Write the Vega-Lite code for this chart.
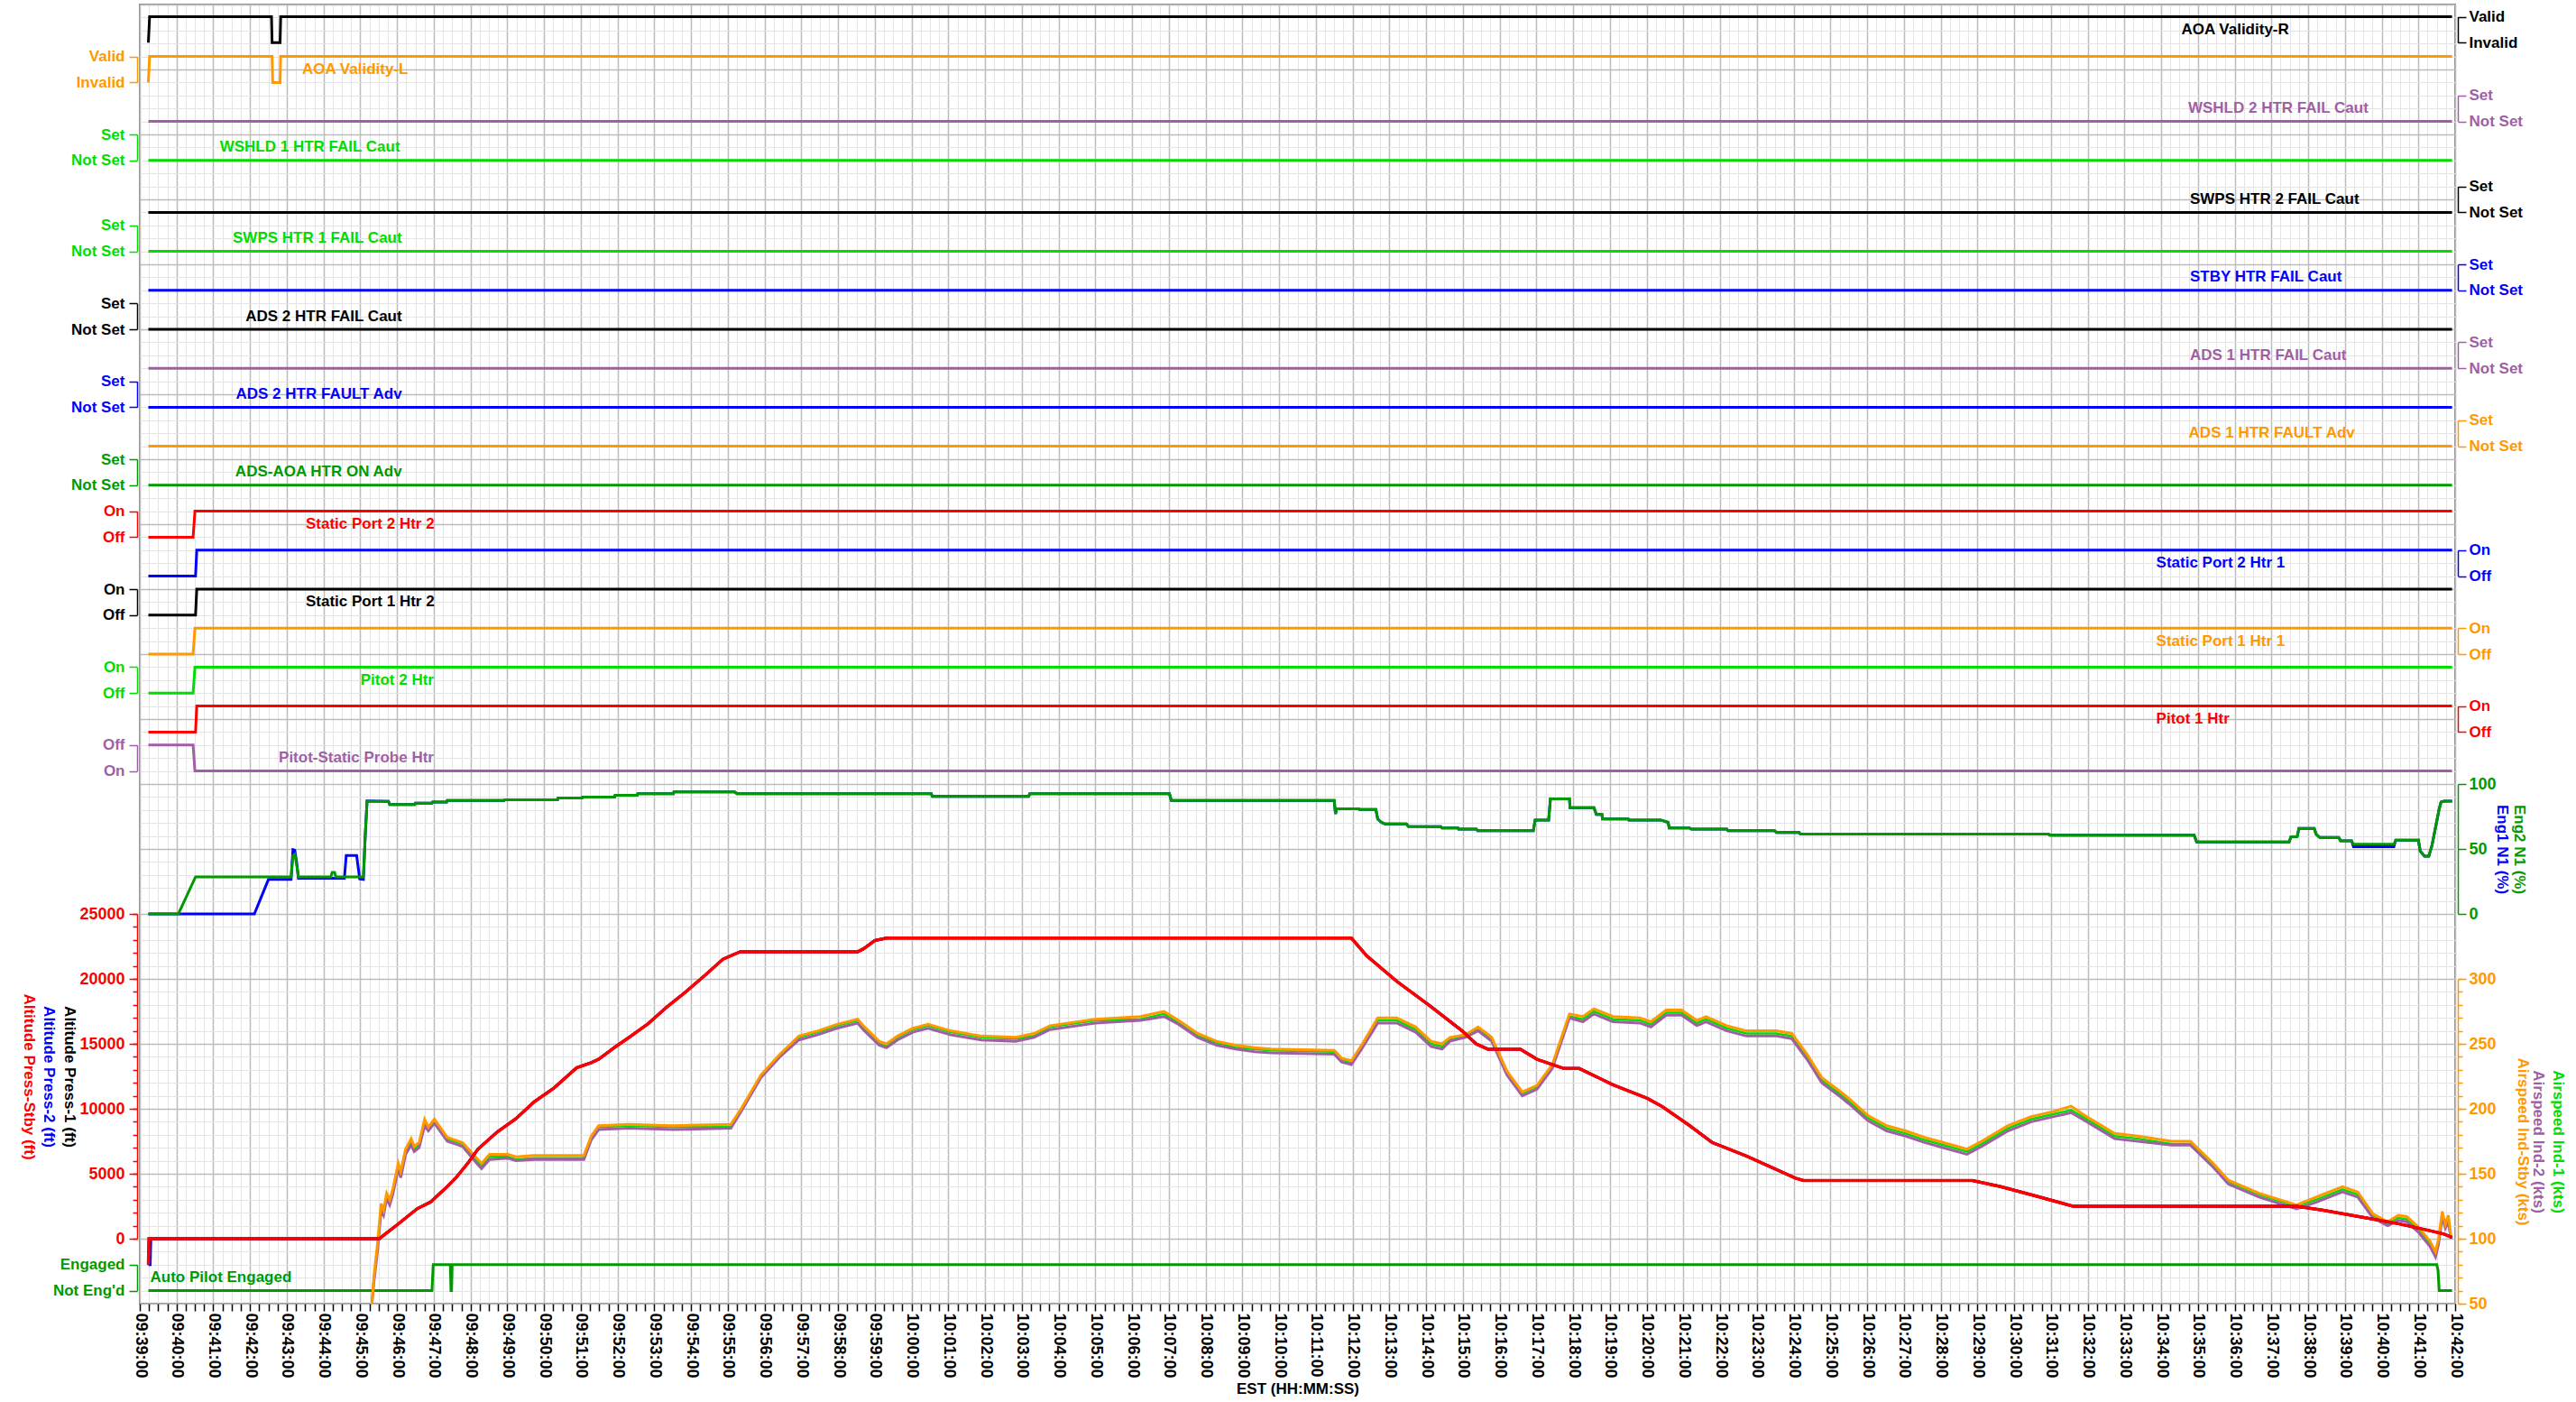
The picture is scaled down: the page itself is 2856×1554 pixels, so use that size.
{
 "$schema": "https://vega.github.io/schema/vega-lite/v6.json",
 "width": 2567,
 "height": 1440,
 "autosize": {"type": "none"},
 "padding": {"left": 155, "top": 5, "right": 134, "bottom": 109},
 "background": "#ffffff",
 "config": {
  "view": {"stroke": "#8c8c8c", "strokeWidth": 2},
  "font": "Liberation Sans",
  "axis": {"labelFont": "Liberation Sans", "titleFont": "Liberation Sans", "labelFontWeight": "bold", "titleFontWeight": "bold", "labelFontSize": 17, "titleFontSize": 17, "grid": false, "labelOverlap": false},
  "text": {"font": "Liberation Sans", "fontSize": 17, "fontWeight": "bold", "baseline": "middle"}
 },
 "datasets": {
  "aoar": [{"t":"2000-01-01T09:39:14Z","v":0},{"t":"2000-01-01T09:39:16Z","v":1},{"t":"2000-01-01T09:42:35Z","v":1},{"t":"2000-01-01T09:42:36Z","v":0},{"t":"2000-01-01T09:42:49Z","v":0},{"t":"2000-01-01T09:42:50Z","v":1},{"t":"2000-01-01T10:41:55Z","v":1}],
  "aoal": [{"t":"2000-01-01T09:39:14Z","v":0},{"t":"2000-01-01T09:39:16Z","v":1},{"t":"2000-01-01T09:42:36Z","v":1},{"t":"2000-01-01T09:42:37Z","v":0},{"t":"2000-01-01T09:42:49Z","v":0},{"t":"2000-01-01T09:42:50Z","v":1},{"t":"2000-01-01T10:41:55Z","v":1}],
  "off": [{"t":"2000-01-01T09:39:14Z","v":0},{"t":"2000-01-01T10:41:55Z","v":0}],
  "htrA": [{"t":"2000-01-01T09:39:14Z","v":0},{"t":"2000-01-01T09:40:27Z","v":0},{"t":"2000-01-01T09:40:30Z","v":1},{"t":"2000-01-01T10:41:55Z","v":1}],
  "htrB": [{"t":"2000-01-01T09:39:14Z","v":0},{"t":"2000-01-01T09:40:31Z","v":0},{"t":"2000-01-01T09:40:33Z","v":1},{"t":"2000-01-01T10:41:55Z","v":1}],
  "ap": [{"t":"2000-01-01T09:39:14Z","v":0},{"t":"2000-01-01T09:46:57Z","v":0},{"t":"2000-01-01T09:46:59Z","v":1},{"t":"2000-01-01T09:47:27Z","v":1},{"t":"2000-01-01T09:47:28Z","v":0},{"t":"2000-01-01T09:47:29Z","v":0},{"t":"2000-01-01T09:47:30Z","v":1},{"t":"2000-01-01T10:41:30Z","v":1},{"t":"2000-01-01T10:41:32Z","v":0.8},{"t":"2000-01-01T10:41:34Z","v":0},{"t":"2000-01-01T10:41:55Z","v":0}],
  "n1": [
   {"t":"2000-01-01T09:39:14Z","e1":0,"e2":0},{"t":"2000-01-01T09:40:03Z","e1":0,"e2":0},{"t":"2000-01-01T09:40:31Z","e1":0,"e2":28.5},{"t":"2000-01-01T09:42:07Z","e1":0,"e2":28.5},{"t":"2000-01-01T09:42:30Z","e1":26.5,"e2":28.5},{"t":"2000-01-01T09:43:07Z","e1":26.5,"e2":28.5},{"t":"2000-01-01T09:43:10Z","e1":49.5,"e2":45},{"t":"2000-01-01T09:43:13Z","e1":49,"e2":46},{"t":"2000-01-01T09:43:16Z","e1":40,"e2":38},{"t":"2000-01-01T09:43:19Z","e1":27.5,"e2":28.5},{"t":"2000-01-01T09:44:12Z","e1":27.5,"e2":28.5},{"t":"2000-01-01T09:44:14Z","e1":27.5,"e2":32},{"t":"2000-01-01T09:44:18Z","e1":27.5,"e2":32},{"t":"2000-01-01T09:44:20Z","e1":27.5,"e2":28.5},{"t":"2000-01-01T09:44:34Z","e1":27.5,"e2":28.5},{"t":"2000-01-01T09:44:37Z","e1":45,"e2":28.5},{"t":"2000-01-01T09:44:54Z","e1":45,"e2":28.5},{"t":"2000-01-01T09:44:59Z","e1":27,"e2":28.5},{"t":"2000-01-01T09:45:05Z","e1":26.5,"e2":28.5},{"t":"2000-01-01T09:45:08Z","e1":60,"e2":60},{"t":"2000-01-01T09:45:11Z","e1":87,"e2":86.6},
   {"t":"2000-01-01T09:45:46Z","e1":86.6,"e2":86.6},{"t":"2000-01-01T09:45:48Z","e1":84.2,"e2":84.2},{"t":"2000-01-01T09:46:29Z","e1":84.2,"e2":84.2},{"t":"2000-01-01T09:46:30Z","e1":85.3,"e2":85.3},{"t":"2000-01-01T09:46:57Z","e1":85.3,"e2":85.3},{"t":"2000-01-01T09:46:58Z","e1":86.1,"e2":86.1},{"t":"2000-01-01T09:47:21Z","e1":86.1,"e2":86.1},{"t":"2000-01-01T09:47:22Z","e1":87.4,"e2":87.4},{"t":"2000-01-01T09:48:55Z","e1":87.4,"e2":87.4},{"t":"2000-01-01T09:48:56Z","e1":87.9,"e2":87.9},{"t":"2000-01-01T09:50:22Z","e1":87.9,"e2":87.9},{"t":"2000-01-01T09:50:23Z","e1":89.2,"e2":89.2},{"t":"2000-01-01T09:51:02Z","e1":89.2,"e2":89.2},{"t":"2000-01-01T09:51:03Z","e1":90,"e2":90},{"t":"2000-01-01T09:51:55Z","e1":90,"e2":90},{"t":"2000-01-01T09:51:56Z","e1":91.3,"e2":91.3},{"t":"2000-01-01T09:52:32Z","e1":91.3,"e2":91.3},{"t":"2000-01-01T09:52:33Z","e1":92.5,"e2":92.5},{"t":"2000-01-01T09:53:31Z","e1":92.5,"e2":92.5},{"t":"2000-01-01T09:53:32Z","e1":93.9,"e2":93.9},{"t":"2000-01-01T09:55:11Z","e1":93.9,"e2":93.9},{"t":"2000-01-01T09:55:15Z","e1":92.5,"e2":92.5},
   {"t":"2000-01-01T10:00:32Z","e1":92.5,"e2":92.5},{"t":"2000-01-01T10:00:34Z","e1":90.5,"e2":90.5},{"t":"2000-01-01T10:03:11Z","e1":90.5,"e2":90.5},{"t":"2000-01-01T10:03:13Z","e1":92.5,"e2":92.5},{"t":"2000-01-01T10:07:01Z","e1":92.5,"e2":92.5},{"t":"2000-01-01T10:07:04Z","e1":87.4,"e2":87.4},{"t":"2000-01-01T10:11:30Z","e1":87.4,"e2":87.4},{"t":"2000-01-01T10:11:32Z","e1":77,"e2":77},{"t":"2000-01-01T10:11:34Z","e1":80.9,"e2":80.9},{"t":"2000-01-01T10:12:10Z","e1":80.9,"e2":80.9},{"t":"2000-01-01T10:12:11Z","e1":80.3,"e2":80.3},{"t":"2000-01-01T10:12:38Z","e1":80.3,"e2":80.3},{"t":"2000-01-01T10:12:41Z","e1":73.1,"e2":73.1},{"t":"2000-01-01T10:12:47Z","e1":70.5,"e2":70.5},{"t":"2000-01-01T10:12:53Z","e1":69.2,"e2":69.2},{"t":"2000-01-01T10:13:28Z","e1":69.2,"e2":69.2},{"t":"2000-01-01T10:13:31Z","e1":67.4,"e2":67.4},{"t":"2000-01-01T10:14:24Z","e1":67.2,"e2":67.2},{"t":"2000-01-01T10:14:26Z","e1":66.1,"e2":66.1},{"t":"2000-01-01T10:14:52Z","e1":66.1,"e2":66.1},{"t":"2000-01-01T10:14:53Z","e1":65.3,"e2":65.3},{"t":"2000-01-01T10:15:22Z","e1":65.3,"e2":65.3},{"t":"2000-01-01T10:15:24Z","e1":64,"e2":64},{"t":"2000-01-01T10:16:55Z","e1":64,"e2":64},{"t":"2000-01-01T10:16:58Z","e1":72.3,"e2":72.3},{"t":"2000-01-01T10:17:20Z","e1":72.3,"e2":72.3},{"t":"2000-01-01T10:17:23Z","e1":88.6,"e2":88.6},{"t":"2000-01-01T10:17:54Z","e1":88.6,"e2":88.6},{"t":"2000-01-01T10:17:55Z","e1":81.7,"e2":81.7},{"t":"2000-01-01T10:18:34Z","e1":81.7,"e2":81.7},{"t":"2000-01-01T10:18:38Z","e1":76.5,"e2":76.5},{"t":"2000-01-01T10:18:47Z","e1":76.5,"e2":76.5},{"t":"2000-01-01T10:18:48Z","e1":73.1,"e2":73.1},{"t":"2000-01-01T10:19:30Z","e1":73.1,"e2":73.1},{"t":"2000-01-01T10:19:31Z","e1":72.3,"e2":72.3},{"t":"2000-01-01T10:20:23Z","e1":72.3,"e2":72.3},{"t":"2000-01-01T10:20:35Z","e1":70.5,"e2":70.5},{"t":"2000-01-01T10:20:37Z","e1":66.1,"e2":66.1},{"t":"2000-01-01T10:21:10Z","e1":66.1,"e2":66.1},{"t":"2000-01-01T10:21:13Z","e1":65.3,"e2":65.3},{"t":"2000-01-01T10:22:11Z","e1":65.3,"e2":65.3},{"t":"2000-01-01T10:22:13Z","e1":64,"e2":64},{"t":"2000-01-01T10:23:29Z","e1":64,"e2":64},{"t":"2000-01-01T10:23:32Z","e1":62.7,"e2":62.7},{"t":"2000-01-01T10:24:09Z","e1":62.7,"e2":62.7},{"t":"2000-01-01T10:24:11Z","e1":61.4,"e2":61.4},
   {"t":"2000-01-01T10:30:56Z","e1":61.4,"e2":61.4},{"t":"2000-01-01T10:30:59Z","e1":60.6,"e2":60.6},{"t":"2000-01-01T10:34:54Z","e1":60.6,"e2":60.6},{"t":"2000-01-01T10:34:58Z","e1":55.4,"e2":55.4},{"t":"2000-01-01T10:37:29Z","e1":55.4,"e2":55.4},{"t":"2000-01-01T10:37:32Z","e1":59.3,"e2":59.3},{"t":"2000-01-01T10:37:42Z","e1":59.3,"e2":59.3},{"t":"2000-01-01T10:37:45Z","e1":65.8,"e2":65.8},{"t":"2000-01-01T10:38:10Z","e1":65.8,"e2":65.8},{"t":"2000-01-01T10:38:13Z","e1":61.4,"e2":61.4},{"t":"2000-01-01T10:38:19Z","e1":58.8,"e2":58.8},{"t":"2000-01-01T10:38:50Z","e1":58.8,"e2":58.8},{"t":"2000-01-01T10:38:53Z","e1":56.2,"e2":56.2},{"t":"2000-01-01T10:39:11Z","e1":56.2,"e2":56.2},{"t":"2000-01-01T10:39:14Z","e1":51.8,"e2":53.6},{"t":"2000-01-01T10:40:20Z","e1":51.8,"e2":53.6},{"t":"2000-01-01T10:40:23Z","e1":56.7,"e2":56.7},{"t":"2000-01-01T10:41:00Z","e1":56.7,"e2":56.7},{"t":"2000-01-01T10:41:03Z","e1":48.4,"e2":48.4},{"t":"2000-01-01T10:41:10Z","e1":44.5,"e2":44.5},{"t":"2000-01-01T10:41:17Z","e1":44.5,"e2":44.5},{"t":"2000-01-01T10:41:22Z","e1":52.3,"e2":52.3},{"t":"2000-01-01T10:41:28Z","e1":66.6,"e2":66.6},{"t":"2000-01-01T10:41:34Z","e1":80.9,"e2":80.9},{"t":"2000-01-01T10:41:37Z","e1":86.1,"e2":86.1},{"t":"2000-01-01T10:41:42Z","e1":86.8,"e2":86.8},{"t":"2000-01-01T10:41:55Z","e1":86.8,"e2":86.8}
  ],
  "alt": [
   {"t":"2000-01-01T09:39:14Z","p1":-2000,"p2":-2000,"ps":-2000},{"t":"2000-01-01T09:39:15Z","p1":0,"p2":-2000,"ps":0},{"t":"2000-01-01T09:39:17Z","p1":0,"p2":-2000,"ps":0},{"t":"2000-01-01T09:39:18Z","p1":0,"p2":0,"ps":0},{"t":"2000-01-01T09:45:31Z","p1":0,"p2":0,"ps":0},{"t":"2000-01-01T09:46:02Z","p1":1139,"p2":1139,"ps":1139},{"t":"2000-01-01T09:46:33Z","p1":2313,"p2":2313,"ps":2313},{"t":"2000-01-01T09:46:55Z","p1":2833,"p2":2833,"ps":2833},{"t":"2000-01-01T09:47:22Z","p1":4013,"p2":4013,"ps":4013},{"t":"2000-01-01T09:47:38Z","p1":4796,"p2":4796,"ps":4796},{"t":"2000-01-01T09:47:56Z","p1":5840,"p2":5840,"ps":5840},{"t":"2000-01-01T09:48:12Z","p1":6888,"p2":6888,"ps":6888},{"t":"2000-01-01T09:48:43Z","p1":8194,"p2":8194,"ps":8194},{"t":"2000-01-01T09:49:14Z","p1":9236,"p2":9236,"ps":9236},{"t":"2000-01-01T09:49:44Z","p1":10541,"p2":10541,"ps":10541},{"t":"2000-01-01T09:50:16Z","p1":11590,"p2":11590,"ps":11590},{"t":"2000-01-01T09:50:53Z","p1":13152,"p2":13152,"ps":13152},{"t":"2000-01-01T09:51:17Z","p1":13548,"p2":13548,"ps":13548},{"t":"2000-01-01T09:51:29Z","p1":13812,"p2":13812,"ps":13812},{"t":"2000-01-01T09:51:55Z","p1":14722,"p2":14722,"ps":14722},{"t":"2000-01-01T09:52:19Z","p1":15506,"p2":15506,"ps":15506},{"t":"2000-01-01T09:52:50Z","p1":16555,"p2":16555,"ps":16555},{"t":"2000-01-01T09:53:21Z","p1":17861,"p2":17861,"ps":17861},{"t":"2000-01-01T09:53:50Z","p1":18950,"p2":18950,"ps":18950},{"t":"2000-01-01T09:54:21Z","p1":20207,"p2":20207,"ps":20207},{"t":"2000-01-01T09:54:52Z","p1":21513,"p2":21513,"ps":21513},{"t":"2000-01-01T09:55:20Z","p1":22089,"p2":22089,"ps":22089},{"t":"2000-01-01T09:58:32Z","p1":22089,"p2":22089,"ps":22089},{"t":"2000-01-01T09:58:41Z","p1":22297,"p2":22297,"ps":22297},{"t":"2000-01-01T09:59:00Z","p1":22950,"p2":22950,"ps":22950},{"t":"2000-01-01T09:59:19Z","p1":23137,"p2":23137,"ps":23137},
   {"t":"2000-01-01T10:11:58Z","p1":23137,"p2":23137,"ps":23137},{"t":"2000-01-01T10:12:23Z","p1":21776,"p2":21776,"ps":21776},{"t":"2000-01-01T10:13:12Z","p1":19818,"p2":19818,"ps":19818},{"t":"2000-01-01T10:14:08Z","p1":17860,"p2":17860,"ps":17860},{"t":"2000-01-01T10:14:58Z","p1":16027,"p2":16027,"ps":16027},{"t":"2000-01-01T10:15:22Z","p1":14985,"p2":14985,"ps":14985},{"t":"2000-01-01T10:15:41Z","p1":14590,"p2":14590,"ps":14590},{"t":"2000-01-01T10:16:34Z","p1":14590,"p2":14590,"ps":14590},{"t":"2000-01-01T10:17:01Z","p1":13812,"p2":13812,"ps":13812},{"t":"2000-01-01T10:17:45Z","p1":13103,"p2":13103,"ps":13103},{"t":"2000-01-01T10:18:10Z","p1":13103,"p2":13103,"ps":13103},{"t":"2000-01-01T10:19:05Z","p1":11846,"p2":11846,"ps":11846},{"t":"2000-01-01T10:20:01Z","p1":10805,"p2":10805,"ps":10805},{"t":"2000-01-01T10:20:26Z","p1":10152,"p2":10152,"ps":10152},{"t":"2000-01-01T10:21:10Z","p1":8715,"p2":8715,"ps":8715},{"t":"2000-01-01T10:21:47Z","p1":7409,"p2":7409,"ps":7409},{"t":"2000-01-01T10:22:43Z","p1":6361,"p2":6361,"ps":6361},{"t":"2000-01-01T10:24:03Z","p1":4666,"p2":4666,"ps":4666},{"t":"2000-01-01T10:24:16Z","p1":4479,"p2":4479,"ps":4479},{"t":"2000-01-01T10:28:52Z","p1":4479,"p2":4479,"ps":4479},{"t":"2000-01-01T10:29:38Z","p1":4013,"p2":4013,"ps":4013},{"t":"2000-01-01T10:30:40Z","p1":3229,"p2":3229,"ps":3229},{"t":"2000-01-01T10:31:36Z","p1":2500,"p2":2500,"ps":2500},{"t":"2000-01-01T10:37:41Z","p1":2500,"p2":2500,"ps":2500},{"t":"2000-01-01T10:38:25Z","p1":2181,"p2":2181,"ps":2181},{"t":"2000-01-01T10:39:27Z","p1":1660,"p2":1660,"ps":1660},{"t":"2000-01-01T10:40:29Z","p1":1139,"p2":1139,"ps":1139},{"t":"2000-01-01T10:41:19Z","p1":618,"p2":618,"ps":618},{"t":"2000-01-01T10:41:42Z","p1":354,"p2":354,"ps":354},{"t":"2000-01-01T10:41:55Z","p1":100,"p2":100,"ps":100}
  ],
  "spd": [
   {"t":"2000-01-01T09:45:19Z","s":50,"a2":50,"a1":50},{"t":"2000-01-01T09:45:22Z","s":70,"a2":66,"a1":68},{"t":"2000-01-01T09:45:28Z","s":96,"a2":90,"a1":93},{"t":"2000-01-01T09:45:34Z","s":127,"a2":122,"a1":124},{"t":"2000-01-01T09:45:38Z","s":122,"a2":118,"a1":120},{"t":"2000-01-01T09:45:43Z","s":135,"a2":131,"a1":133},{"t":"2000-01-01T09:45:48Z","s":130,"a2":126,"a1":128},{"t":"2000-01-01T09:45:53Z","s":138,"a2":134,"a1":136},{"t":"2000-01-01T09:46:02Z","s":158,"a2":154,"a1":156},{"t":"2000-01-01T09:46:06Z","s":152,"a2":147,"a1":150},{"t":"2000-01-01T09:46:14Z","s":169,"a2":165,"a1":167},{"t":"2000-01-01T09:46:23Z","s":177,"a2":172,"a1":175},{"t":"2000-01-01T09:46:28Z","s":171,"a2":167,"a1":169},{"t":"2000-01-01T09:46:36Z","s":174,"a2":170,"a1":172},{"t":"2000-01-01T09:46:45Z","s":192,"a2":187,"a1":190},{"t":"2000-01-01T09:46:51Z","s":186,"a2":183,"a1":185},{"t":"2000-01-01T09:47:01Z","s":192,"a2":189,"a1":190},{"t":"2000-01-01T09:47:22Z","s":178,"a2":175,"a1":177},{"t":"2000-01-01T09:47:47Z","s":174,"a2":171,"a1":173},{"t":"2000-01-01T09:48:12Z","s":161,"a2":157,"a1":159},{"t":"2000-01-01T09:48:18Z","s":158,"a2":154,"a1":156},{"t":"2000-01-01T09:48:31Z","s":165,"a2":161,"a1":163},{"t":"2000-01-01T09:49:01Z","s":165,"a2":162,"a1":163},{"t":"2000-01-01T09:49:14Z","s":163,"a2":160,"a1":161},{"t":"2000-01-01T09:49:44Z","s":164,"a2":161,"a1":162},{"t":"2000-01-01T09:50:46Z","s":164,"a2":161,"a1":162},{"t":"2000-01-01T09:51:05Z","s":164,"a2":161,"a1":162},{"t":"2000-01-01T09:51:17Z","s":179,"a2":176,"a1":178},{"t":"2000-01-01T09:51:29Z","s":187,"a2":184,"a1":186},{"t":"2000-01-01T09:52:19Z","s":188,"a2":185,"a1":187},{"t":"2000-01-01T09:53:30Z","s":187,"a2":184,"a1":186},{"t":"2000-01-01T09:55:05Z","s":188,"a2":185,"a1":186},
   {"t":"2000-01-01T09:55:23Z","s":201,"a2":199,"a1":200},{"t":"2000-01-01T09:55:54Z","s":226,"a2":224,"a1":225},{"t":"2000-01-01T09:56:25Z","s":242,"a2":240,"a1":241},{"t":"2000-01-01T09:56:56Z","s":256,"a2":253,"a1":255},{"t":"2000-01-01T09:57:27Z","s":260,"a2":257,"a1":259},{"t":"2000-01-01T09:57:58Z","s":265,"a2":262,"a1":264},{"t":"2000-01-01T09:58:32Z","s":269,"a2":266,"a1":268},{"t":"2000-01-01T09:58:41Z","s":264,"a2":261,"a1":262},{"t":"2000-01-01T09:59:07Z","s":252,"a2":249,"a1":250},{"t":"2000-01-01T09:59:19Z","s":250,"a2":247,"a1":248},{"t":"2000-01-01T09:59:37Z","s":256,"a2":253,"a1":255},{"t":"2000-01-01T10:00:02Z","s":262,"a2":259,"a1":261},{"t":"2000-01-01T10:00:27Z","s":265,"a2":262,"a1":264},{"t":"2000-01-01T10:01:04Z","s":260,"a2":257,"a1":259},{"t":"2000-01-01T10:01:54Z","s":256,"a2":253,"a1":255},{"t":"2000-01-01T10:02:50Z","s":255,"a2":252,"a1":254},{"t":"2000-01-01T10:03:20Z","s":258,"a2":255,"a1":256},{"t":"2000-01-01T10:03:46Z","s":264,"a2":261,"a1":263},{"t":"2000-01-01T10:05:00Z","s":269,"a2":266,"a1":268},{"t":"2000-01-01T10:06:14Z","s":271,"a2":268,"a1":269},{"t":"2000-01-01T10:06:52Z","s":275,"a2":271,"a1":273},{"t":"2000-01-01T10:07:16Z","s":268,"a2":265,"a1":266},{"t":"2000-01-01T10:07:47Z","s":258,"a2":255,"a1":256},{"t":"2000-01-01T10:08:18Z","s":252,"a2":249,"a1":251},{"t":"2000-01-01T10:08:49Z","s":249,"a2":246,"a1":247},{"t":"2000-01-01T10:09:20Z","s":247,"a2":244,"a1":246},{"t":"2000-01-01T10:09:47Z","s":246,"a2":243,"a1":245},{"t":"2000-01-01T10:11:30Z","s":245,"a2":242,"a1":244},{"t":"2000-01-01T10:11:42Z","s":239,"a2":236,"a1":238},{"t":"2000-01-01T10:11:58Z","s":237,"a2":234,"a1":235},
   {"t":"2000-01-01T10:12:16Z","s":250,"a2":247,"a1":248},{"t":"2000-01-01T10:12:41Z","s":270,"a2":266,"a1":268},{"t":"2000-01-01T10:13:12Z","s":270,"a2":266,"a1":268},{"t":"2000-01-01T10:13:43Z","s":263,"a2":259,"a1":261},{"t":"2000-01-01T10:14:08Z","s":252,"a2":248,"a1":250},{"t":"2000-01-01T10:14:26Z","s":250,"a2":246,"a1":248},{"t":"2000-01-01T10:14:39Z","s":255,"a2":252,"a1":253},{"t":"2000-01-01T10:15:04Z","s":257,"a2":255,"a1":256},{"t":"2000-01-01T10:15:25Z","s":263,"a2":260,"a1":262},{"t":"2000-01-01T10:15:47Z","s":255,"a2":252,"a1":253},{"t":"2000-01-01T10:16:12Z","s":229,"a2":226,"a1":227},{"t":"2000-01-01T10:16:37Z","s":213,"a2":210,"a1":212},{"t":"2000-01-01T10:17:01Z","s":218,"a2":215,"a1":217},{"t":"2000-01-01T10:17:26Z","s":234,"a2":231,"a1":233},{"t":"2000-01-01T10:17:54Z","s":273,"a2":270,"a1":271},{"t":"2000-01-01T10:18:16Z","s":271,"a2":267,"a1":269},{"t":"2000-01-01T10:18:34Z","s":277,"a2":273,"a1":275},{"t":"2000-01-01T10:19:05Z","s":271,"a2":267,"a1":269},{"t":"2000-01-01T10:19:49Z","s":270,"a2":266,"a1":268},{"t":"2000-01-01T10:20:07Z","s":267,"a2":263,"a1":265},{"t":"2000-01-01T10:20:32Z","s":276,"a2":272,"a1":274},{"t":"2000-01-01T10:20:57Z","s":276,"a2":272,"a1":274},{"t":"2000-01-01T10:21:22Z","s":268,"a2":264,"a1":266},{"t":"2000-01-01T10:21:37Z","s":271,"a2":267,"a1":269},{"t":"2000-01-01T10:22:11Z","s":264,"a2":260,"a1":262},{"t":"2000-01-01T10:22:43Z","s":260,"a2":256,"a1":258},{"t":"2000-01-01T10:23:32Z","s":260,"a2":256,"a1":258},{"t":"2000-01-01T10:23:57Z","s":258,"a2":254,"a1":256},{"t":"2000-01-01T10:24:22Z","s":242,"a2":238,"a1":240},{"t":"2000-01-01T10:24:46Z","s":224,"a2":220,"a1":222},{"t":"2000-01-01T10:25:17Z","s":213,"a2":209,"a1":211},{"t":"2000-01-01T10:25:30Z","s":208,"a2":204,"a1":206},
   {"t":"2000-01-01T10:26:01Z","s":195,"a2":191,"a1":193},{"t":"2000-01-01T10:26:32Z","s":187,"a2":183,"a1":185},{"t":"2000-01-01T10:27:03Z","s":183,"a2":179,"a1":181},{"t":"2000-01-01T10:27:34Z","s":178,"a2":174,"a1":176},{"t":"2000-01-01T10:28:05Z","s":174,"a2":170,"a1":172},{"t":"2000-01-01T10:28:43Z","s":169,"a2":165,"a1":167},{"t":"2000-01-01T10:29:07Z","s":175,"a2":171,"a1":173},{"t":"2000-01-01T10:29:50Z","s":187,"a2":183,"a1":185},{"t":"2000-01-01T10:30:28Z","s":194,"a2":190,"a1":192},{"t":"2000-01-01T10:31:05Z","s":198,"a2":194,"a1":196},{"t":"2000-01-01T10:31:33Z","s":202,"a2":197,"a1":199},{"t":"2000-01-01T10:31:55Z","s":195,"a2":191,"a1":193},{"t":"2000-01-01T10:32:44Z","s":181,"a2":177,"a1":179},{"t":"2000-01-01T10:33:22Z","s":179,"a2":175,"a1":177},{"t":"2000-01-01T10:34:17Z","s":175,"a2":172,"a1":173},{"t":"2000-01-01T10:34:48Z","s":175,"a2":172,"a1":173},{"t":"2000-01-01T10:35:25Z","s":158,"a2":155,"a1":157},{"t":"2000-01-01T10:35:50Z","s":145,"a2":142,"a1":144},{"t":"2000-01-01T10:36:40Z","s":135,"a2":132,"a1":134},{"t":"2000-01-01T10:37:41Z","s":126,"a2":123,"a1":125},{"t":"2000-01-01T10:38:13Z","s":132,"a2":128,"a1":130},{"t":"2000-01-01T10:38:56Z","s":140,"a2":136,"a1":138},{"t":"2000-01-01T10:39:21Z","s":136,"a2":132,"a1":134},{"t":"2000-01-01T10:39:46Z","s":119,"a2":116,"a1":118},{"t":"2000-01-01T10:40:10Z","s":113,"a2":110,"a1":112},{"t":"2000-01-01T10:40:27Z","s":118,"a2":114,"a1":116},{"t":"2000-01-01T10:40:41Z","s":117,"a2":113,"a1":115},{"t":"2000-01-01T10:41:00Z","s":109,"a2":105,"a1":107},{"t":"2000-01-01T10:41:19Z","s":98,"a2":94,"a1":96},{"t":"2000-01-01T10:41:28Z","s":90,"a2":86,"a1":88},{"t":"2000-01-01T10:41:33Z","s":100,"a2":96,"a1":98},{"t":"2000-01-01T10:41:39Z","s":121,"a2":117,"a1":119},{"t":"2000-01-01T10:41:44Z","s":111,"a2":108,"a1":110},{"t":"2000-01-01T10:41:49Z","s":118,"a2":113,"a1":115},{"t":"2000-01-01T10:41:53Z","s":102,"a2":100,"a1":101}
  ]
 },
 "encoding": {
  "x": {"field": "t", "type": "temporal",
   "scale": {"type": "utc", "domain": [{"year":2000,"month":1,"date":1,"hours":9,"minutes":39,"utc":true},{"year":2000,"month":1,"date":1,"hours":10,"minutes":42,"utc":true}]},
   "axis": {"orient": "bottom", "tickCount": 252,
    "labelExpr": "datum.value % 60000 === 0 ? utcFormat(datum.value, '%H:%M:%S') : ''",
    "labelAngle": 90, "labelAlign": "left", "labelBaseline": "middle", "labelFontSize": 18, "labelColor": "#000000", "labelPadding": 2, "labelFlush": false, "labelOverlap": false,
    "ticks": true, "tickSize": 8, "tickColor": "#000000", "tickWidth": 1.5, "domain": false,
    "grid": true,
    "gridColor": {"condition": {"test": "datum.value % 60000 === 0", "value": "#bcbcbc"}, "value": "#e4e4e4"},
    "gridWidth": {"condition": {"test": "datum.value % 60000 === 0", "value": 1.5}, "value": 1},
    "title": "EST (HH:MM:SS)", "titleFontSize": 17, "titleColor": "#000000", "titlePadding": 4}}
 },
 "layer": [
  {"data": {"values": [{"g": 0}]},
   "mark": {"type": "point", "opacity": 0},
   "encoding": {
    "y": {"field": "g", "type": "quantitative", "scale": {"domain": [0, 100], "nice": false},
     "axis": {"orient": "left", "tickCount": 100, "labels": false, "ticks": false, "domain": false, "title": null, "grid": true,
      "gridColor": {"condition": {"test": "datum.value % 5 === 0", "value": "#bcbcbc"}, "value": "#e4e4e4"},
      "gridWidth": {"condition": {"test": "datum.value % 5 === 0", "value": 1.5}, "value": 1}}}}},

  {"data": {"name": "ap"}, "mark": {"type": "line", "color": "#009900", "strokeWidth": 3},
   "encoding": {"y": {"field": "v", "type": "quantitative", "scale": {"domain": [0, 1], "range": [1425.6, 1396.8]},
     "axis": {"orient": "left", "values": [0, 1], "labelExpr": "datum.value ? 'Engaged' : \"Not Eng'd\"", "title": null, "offset": 3, "tickSize": 9, "tickWidth": 1.5, "domainWidth": 1.5, "labelPadding": 5, "domainColor": "#009900", "tickColor": "#009900", "labelColor": "#009900"}}}},

  {"data": {"name": "aoar"}, "mark": {"type": "line", "color": "#000000", "strokeWidth": 3},
   "encoding": {"y": {"field": "v", "type": "quantitative", "scale": {"domain": [0, 1], "range": [42.3, 13.5]},
     "axis": {"orient": "right", "values": [0, 1], "labelExpr": "datum.value ? 'Valid' : 'Invalid'", "title": null, "offset": 3, "tickSize": 9, "tickWidth": 1.5, "domainWidth": 1.5, "labelPadding": 3, "domainColor": "#000000", "tickColor": "#000000", "labelColor": "#000000"}}}},
  {"data": {"name": "aoal"}, "mark": {"type": "line", "color": "#FF9900", "strokeWidth": 3},
   "encoding": {"y": {"field": "v", "type": "quantitative", "scale": {"domain": [0, 1], "range": [86.4, 57.6]},
     "axis": {"orient": "left", "values": [0, 1], "labelExpr": "datum.value ? 'Valid' : 'Invalid'", "title": null, "offset": 3, "tickSize": 9, "tickWidth": 1.5, "domainWidth": 1.5, "labelPadding": 5, "domainColor": "#FF9900", "tickColor": "#FF9900", "labelColor": "#FF9900"}}}},
  {"data": {"name": "off"}, "mark": {"type": "line", "color": "#A05FA5", "strokeWidth": 3},
   "encoding": {"y": {"field": "v", "type": "quantitative", "scale": {"domain": [0, 1], "range": [129.6, 100.8]},
     "axis": {"orient": "right", "values": [0, 1], "labelExpr": "datum.value ? 'Set' : 'Not Set'", "title": null, "offset": 3, "tickSize": 9, "tickWidth": 1.5, "domainWidth": 1.5, "labelPadding": 3, "domainColor": "#A05FA5", "tickColor": "#A05FA5", "labelColor": "#A05FA5"}}}},
  {"data": {"name": "off"}, "mark": {"type": "line", "color": "#00DD00", "strokeWidth": 3},
   "encoding": {"y": {"field": "v", "type": "quantitative", "scale": {"domain": [0, 1], "range": [172.8, 144]},
     "axis": {"orient": "left", "values": [0, 1], "labelExpr": "datum.value ? 'Set' : 'Not Set'", "title": null, "offset": 3, "tickSize": 9, "tickWidth": 1.5, "domainWidth": 1.5, "labelPadding": 5, "domainColor": "#00DD00", "tickColor": "#00DD00", "labelColor": "#00DD00"}}}},
  {"data": {"name": "off"}, "mark": {"type": "line", "color": "#000000", "strokeWidth": 3},
   "encoding": {"y": {"field": "v", "type": "quantitative", "scale": {"domain": [0, 1], "range": [230.4, 201.6]},
     "axis": {"orient": "right", "values": [0, 1], "labelExpr": "datum.value ? 'Set' : 'Not Set'", "title": null, "offset": 3, "tickSize": 9, "tickWidth": 1.5, "domainWidth": 1.5, "labelPadding": 3, "domainColor": "#000000", "tickColor": "#000000", "labelColor": "#000000"}}}},
  {"data": {"name": "off"}, "mark": {"type": "line", "color": "#00DD00", "strokeWidth": 3},
   "encoding": {"y": {"field": "v", "type": "quantitative", "scale": {"domain": [0, 1], "range": [273.6, 244.8]},
     "axis": {"orient": "left", "values": [0, 1], "labelExpr": "datum.value ? 'Set' : 'Not Set'", "title": null, "offset": 3, "tickSize": 9, "tickWidth": 1.5, "domainWidth": 1.5, "labelPadding": 5, "domainColor": "#00DD00", "tickColor": "#00DD00", "labelColor": "#00DD00"}}}},
  {"data": {"name": "off"}, "mark": {"type": "line", "color": "#0000FF", "strokeWidth": 3},
   "encoding": {"y": {"field": "v", "type": "quantitative", "scale": {"domain": [0, 1], "range": [316.8, 288]},
     "axis": {"orient": "right", "values": [0, 1], "labelExpr": "datum.value ? 'Set' : 'Not Set'", "title": null, "offset": 3, "tickSize": 9, "tickWidth": 1.5, "domainWidth": 1.5, "labelPadding": 3, "domainColor": "#0000FF", "tickColor": "#0000FF", "labelColor": "#0000FF"}}}},
  {"data": {"name": "off"}, "mark": {"type": "line", "color": "#000000", "strokeWidth": 3},
   "encoding": {"y": {"field": "v", "type": "quantitative", "scale": {"domain": [0, 1], "range": [360, 331.2]},
     "axis": {"orient": "left", "values": [0, 1], "labelExpr": "datum.value ? 'Set' : 'Not Set'", "title": null, "offset": 3, "tickSize": 9, "tickWidth": 1.5, "domainWidth": 1.5, "labelPadding": 5, "domainColor": "#000000", "tickColor": "#000000", "labelColor": "#000000"}}}},
  {"data": {"name": "off"}, "mark": {"type": "line", "color": "#A05FA5", "strokeWidth": 3},
   "encoding": {"y": {"field": "v", "type": "quantitative", "scale": {"domain": [0, 1], "range": [403.2, 374.4]},
     "axis": {"orient": "right", "values": [0, 1], "labelExpr": "datum.value ? 'Set' : 'Not Set'", "title": null, "offset": 3, "tickSize": 9, "tickWidth": 1.5, "domainWidth": 1.5, "labelPadding": 3, "domainColor": "#A05FA5", "tickColor": "#A05FA5", "labelColor": "#A05FA5"}}}},
  {"data": {"name": "off"}, "mark": {"type": "line", "color": "#0000FF", "strokeWidth": 3},
   "encoding": {"y": {"field": "v", "type": "quantitative", "scale": {"domain": [0, 1], "range": [446.4, 417.6]},
     "axis": {"orient": "left", "values": [0, 1], "labelExpr": "datum.value ? 'Set' : 'Not Set'", "title": null, "offset": 3, "tickSize": 9, "tickWidth": 1.5, "domainWidth": 1.5, "labelPadding": 5, "domainColor": "#0000FF", "tickColor": "#0000FF", "labelColor": "#0000FF"}}}},
  {"data": {"name": "off"}, "mark": {"type": "line", "color": "#FF9900", "strokeWidth": 3},
   "encoding": {"y": {"field": "v", "type": "quantitative", "scale": {"domain": [0, 1], "range": [489.6, 460.8]},
     "axis": {"orient": "right", "values": [0, 1], "labelExpr": "datum.value ? 'Set' : 'Not Set'", "title": null, "offset": 3, "tickSize": 9, "tickWidth": 1.5, "domainWidth": 1.5, "labelPadding": 3, "domainColor": "#FF9900", "tickColor": "#FF9900", "labelColor": "#FF9900"}}}},
  {"data": {"name": "off"}, "mark": {"type": "line", "color": "#009900", "strokeWidth": 3},
   "encoding": {"y": {"field": "v", "type": "quantitative", "scale": {"domain": [0, 1], "range": [532.8, 504]},
     "axis": {"orient": "left", "values": [0, 1], "labelExpr": "datum.value ? 'Set' : 'Not Set'", "title": null, "offset": 3, "tickSize": 9, "tickWidth": 1.5, "domainWidth": 1.5, "labelPadding": 5, "domainColor": "#009900", "tickColor": "#009900", "labelColor": "#009900"}}}},
  {"data": {"name": "htrA"}, "mark": {"type": "line", "color": "#FF0000", "strokeWidth": 3},
   "encoding": {"y": {"field": "v", "type": "quantitative", "scale": {"domain": [0, 1], "range": [590.4, 561.6]},
     "axis": {"orient": "left", "values": [0, 1], "labelExpr": "datum.value ? 'On' : 'Off'", "title": null, "offset": 3, "tickSize": 9, "tickWidth": 1.5, "domainWidth": 1.5, "labelPadding": 5, "domainColor": "#FF0000", "tickColor": "#FF0000", "labelColor": "#FF0000"}}}},
  {"data": {"name": "htrB"}, "mark": {"type": "line", "color": "#0000FF", "strokeWidth": 3},
   "encoding": {"y": {"field": "v", "type": "quantitative", "scale": {"domain": [0, 1], "range": [633.6, 604.8]},
     "axis": {"orient": "right", "values": [0, 1], "labelExpr": "datum.value ? 'On' : 'Off'", "title": null, "offset": 3, "tickSize": 9, "tickWidth": 1.5, "domainWidth": 1.5, "labelPadding": 3, "domainColor": "#0000FF", "tickColor": "#0000FF", "labelColor": "#0000FF"}}}},
  {"data": {"name": "htrB"}, "mark": {"type": "line", "color": "#000000", "strokeWidth": 3},
   "encoding": {"y": {"field": "v", "type": "quantitative", "scale": {"domain": [0, 1], "range": [676.8, 648]},
     "axis": {"orient": "left", "values": [0, 1], "labelExpr": "datum.value ? 'On' : 'Off'", "title": null, "offset": 3, "tickSize": 9, "tickWidth": 1.5, "domainWidth": 1.5, "labelPadding": 5, "domainColor": "#000000", "tickColor": "#000000", "labelColor": "#000000"}}}},
  {"data": {"name": "htrA"}, "mark": {"type": "line", "color": "#FF9900", "strokeWidth": 3},
   "encoding": {"y": {"field": "v", "type": "quantitative", "scale": {"domain": [0, 1], "range": [720, 691.2]},
     "axis": {"orient": "right", "values": [0, 1], "labelExpr": "datum.value ? 'On' : 'Off'", "title": null, "offset": 3, "tickSize": 9, "tickWidth": 1.5, "domainWidth": 1.5, "labelPadding": 3, "domainColor": "#FF9900", "tickColor": "#FF9900", "labelColor": "#FF9900"}}}},
  {"data": {"name": "htrA"}, "mark": {"type": "line", "color": "#00DD00", "strokeWidth": 3},
   "encoding": {"y": {"field": "v", "type": "quantitative", "scale": {"domain": [0, 1], "range": [763.2, 734.4]},
     "axis": {"orient": "left", "values": [0, 1], "labelExpr": "datum.value ? 'On' : 'Off'", "title": null, "offset": 3, "tickSize": 9, "tickWidth": 1.5, "domainWidth": 1.5, "labelPadding": 5, "domainColor": "#00DD00", "tickColor": "#00DD00", "labelColor": "#00DD00"}}}},
  {"data": {"name": "htrB"}, "mark": {"type": "line", "color": "#FF0000", "strokeWidth": 3},
   "encoding": {"y": {"field": "v", "type": "quantitative", "scale": {"domain": [0, 1], "range": [806.4, 777.6]},
     "axis": {"orient": "right", "values": [0, 1], "labelExpr": "datum.value ? 'On' : 'Off'", "title": null, "offset": 3, "tickSize": 9, "tickWidth": 1.5, "domainWidth": 1.5, "labelPadding": 3, "domainColor": "#FF0000", "tickColor": "#FF0000", "labelColor": "#FF0000"}}}},
  {"data": {"name": "htrA"}, "mark": {"type": "line", "color": "#A05FA5", "strokeWidth": 3},
   "encoding": {"y": {"field": "v", "type": "quantitative", "scale": {"domain": [0, 1], "range": [820.8, 849.6]},
     "axis": {"orient": "left", "values": [0, 1], "labelExpr": "datum.value ? 'On' : 'Off'", "title": null, "offset": 3, "tickSize": 9, "tickWidth": 1.5, "domainWidth": 1.5, "labelPadding": 5, "domainColor": "#A05FA5", "tickColor": "#A05FA5", "labelColor": "#A05FA5"}}}},

  {"data": {"name": "n1"}, "mark": {"type": "line", "color": "#0000FF", "strokeWidth": 3},
   "encoding": {"y": {"field": "e1", "type": "quantitative", "scale": {"domain": [0, 100], "range": [1008, 864]},
     "axis": {"orient": "right", "labels": false, "ticks": false, "domain": false, "offset": 3, "minExtent": 0, "maxExtent": 0, "title": "Eng1 N1 (%)", "titleColor": "#0000FF", "titleAngle": 90, "titleBaseline": "bottom", "titlePadding": 39}}}},
  {"data": {"name": "n1"}, "mark": {"type": "line", "color": "#009900", "strokeWidth": 3},
   "encoding": {"y": {"field": "e2", "type": "quantitative", "scale": {"domain": [0, 100], "range": [1008, 864]},
     "axis": {"orient": "right", "values": [0, 50, 100], "labelColor": "#009900", "labelFontSize": 18, "labelPadding": 3, "tickSize": 9, "tickColor": "#009900", "tickWidth": 1.5, "domainColor": "#009900", "domainWidth": 1.5, "offset": 3, "minExtent": 0, "maxExtent": 0, "title": "Eng2 N1 (%)", "titleColor": "#009900", "titleAngle": 90, "titleBaseline": "bottom", "titlePadding": 58}}}},

  {"data": {"name": "spd"}, "mark": {"type": "line", "color": "#00DD00", "strokeWidth": 2.5},
   "encoding": {"y": {"field": "a1", "type": "quantitative", "scale": {"domain": [50, 300], "range": [1440, 1080]},
     "axis": {"orient": "right", "labels": false, "ticks": false, "domain": false, "offset": 3, "minExtent": 0, "maxExtent": 0, "title": "Airspeed Ind-1 (kts)", "titleColor": "#00DD00", "titleAngle": 90, "titleBaseline": "bottom", "titlePadding": 101}}}},
  {"data": {"name": "spd"}, "mark": {"type": "line", "color": "#A05FA5", "strokeWidth": 3},
   "encoding": {"y": {"field": "a2", "type": "quantitative", "scale": {"domain": [50, 300], "range": [1440, 1080]},
     "axis": {"orient": "right", "values": [50,60,70,80,90,100,110,120,130,140,150,160,170,180,190,200,210,220,230,240,250,260,270,280,290,300], "labels": false, "domain": false, "tickSize": 5, "tickColor": "#FF9900", "tickWidth": 1.5, "offset": 3, "minExtent": 0, "maxExtent": 0, "title": "Airspeed Ind-2 (kts)", "titleColor": "#A05FA5", "titleAngle": 90, "titleBaseline": "bottom", "titlePadding": 79}}}},
  {"data": {"name": "spd"}, "mark": {"type": "line", "color": "#FF9900", "strokeWidth": 3},
   "encoding": {"y": {"field": "s", "type": "quantitative", "scale": {"domain": [50, 300], "range": [1440, 1080]},
     "axis": {"orient": "right", "values": [50, 100, 150, 200, 250, 300], "labelColor": "#FF9900", "labelFontSize": 18, "labelPadding": 3, "tickSize": 9, "tickColor": "#FF9900", "tickWidth": 1.5, "domainColor": "#FF9900", "domainWidth": 1.5, "offset": 3, "minExtent": 0, "maxExtent": 0, "title": "Airspeed Ind-Stby (kts)", "titleColor": "#FF9900", "titleAngle": 90, "titleBaseline": "bottom", "titlePadding": 62}}}},

  {"data": {"name": "alt"}, "mark": {"type": "line", "color": "#000000", "strokeWidth": 3},
   "encoding": {"y": {"field": "p1", "type": "quantitative", "scale": {"domain": [0, 25000], "range": [1368, 1008]},
     "axis": {"orient": "left", "values": [0,1000,2000,3000,4000,5000,6000,7000,8000,9000,10000,11000,12000,13000,14000,15000,16000,17000,18000,19000,20000,21000,22000,23000,24000,25000], "labels": false, "domain": false, "tickSize": 5, "tickColor": "#FF0000", "tickWidth": 1.5, "offset": 3, "minExtent": 0, "maxExtent": 0, "title": "Altitude Press-1 (ft)", "titleColor": "#000000", "titleAngle": 90, "titleBaseline": "top", "titlePadding": 68}}}},
  {"data": {"name": "alt"}, "mark": {"type": "line", "color": "#0000FF", "strokeWidth": 3},
   "encoding": {"y": {"field": "p2", "type": "quantitative", "scale": {"domain": [0, 25000], "range": [1368, 1008]},
     "axis": {"orient": "left", "labels": false, "ticks": false, "domain": false, "offset": 3, "minExtent": 0, "maxExtent": 0, "title": "Altitude Press-2 (ft)", "titleColor": "#0000FF", "titleAngle": 90, "titleBaseline": "top", "titlePadding": 91}}}},
  {"data": {"name": "alt"}, "mark": {"type": "line", "color": "#FF0000", "strokeWidth": 3.5},
   "encoding": {"y": {"field": "ps", "type": "quantitative", "scale": {"domain": [0, 25000], "range": [1368, 1008]},
     "axis": {"orient": "left", "values": [0, 5000, 10000, 15000, 20000, 25000], "format": "d", "labelColor": "#FF0000", "labelFontSize": 18, "labelPadding": 5, "tickSize": 9, "tickColor": "#FF0000", "tickWidth": 1.5, "domainColor": "#FF0000", "domainWidth": 1.5, "offset": 3, "minExtent": 0, "maxExtent": 0, "title": "Altitude Press-Stby (ft)", "titleColor": "#FF0000", "titleAngle": 90, "titleBaseline": "top", "titlePadding": 113}}}},

  {"data": {"values": [{"label": "Auto Pilot Engaged", "t": "2000-01-01T09:39:17Z"}]}, "mark": {"type": "text", "color": "#009900", "align": "left"},
   "encoding": {"y": {"datum": 0.5, "type": "quantitative", "scale": {"domain": [0, 1], "range": [1425.6, 1396.8]}, "axis": null}, "text": {"field": "label"}}},
  {"data": {"values": [{"label": "AOA Validity-R", "t": "2000-01-01T10:34:33Z"}]}, "mark": {"type": "text", "color": "#000000", "align": "left"},
   "encoding": {"y": {"datum": 0.5, "type": "quantitative", "scale": {"domain": [0, 1], "range": [42.3, 13.5]}, "axis": null}, "text": {"field": "label"}}},
  {"data": {"values": [{"label": "AOA Validity-L", "t": "2000-01-01T09:46:18Z"}]}, "mark": {"type": "text", "color": "#FF9900", "align": "right"},
   "encoding": {"y": {"datum": 0.5, "type": "quantitative", "scale": {"domain": [0, 1], "range": [86.4, 57.6]}, "axis": null}, "text": {"field": "label"}}},
  {"data": {"values": [{"label": "WSHLD 2 HTR FAIL Caut", "t": "2000-01-01T10:34:44Z"}]}, "mark": {"type": "text", "color": "#A05FA5", "align": "left"},
   "encoding": {"y": {"datum": 0.5, "type": "quantitative", "scale": {"domain": [0, 1], "range": [129.6, 100.8]}, "axis": null}, "text": {"field": "label"}}},
  {"data": {"values": [{"label": "WSHLD 1 HTR FAIL Caut", "t": "2000-01-01T09:46:05Z"}]}, "mark": {"type": "text", "color": "#00DD00", "align": "right"},
   "encoding": {"y": {"datum": 0.5, "type": "quantitative", "scale": {"domain": [0, 1], "range": [172.8, 144]}, "axis": null}, "text": {"field": "label"}}},
  {"data": {"values": [{"label": "SWPS HTR 2 FAIL Caut", "t": "2000-01-01T10:34:47Z"}]}, "mark": {"type": "text", "color": "#000000", "align": "left"},
   "encoding": {"y": {"datum": 0.5, "type": "quantitative", "scale": {"domain": [0, 1], "range": [230.4, 201.6]}, "axis": null}, "text": {"field": "label"}}},
  {"data": {"values": [{"label": "SWPS HTR 1 FAIL Caut", "t": "2000-01-01T09:46:08Z"}]}, "mark": {"type": "text", "color": "#00DD00", "align": "right"},
   "encoding": {"y": {"datum": 0.5, "type": "quantitative", "scale": {"domain": [0, 1], "range": [273.6, 244.8]}, "axis": null}, "text": {"field": "label"}}},
  {"data": {"values": [{"label": "STBY HTR FAIL Caut", "t": "2000-01-01T10:34:47Z"}]}, "mark": {"type": "text", "color": "#0000FF", "align": "left"},
   "encoding": {"y": {"datum": 0.5, "type": "quantitative", "scale": {"domain": [0, 1], "range": [316.8, 288]}, "axis": null}, "text": {"field": "label"}}},
  {"data": {"values": [{"label": "ADS 2 HTR FAIL Caut", "t": "2000-01-01T09:46:08Z"}]}, "mark": {"type": "text", "color": "#000000", "align": "right"},
   "encoding": {"y": {"datum": 0.5, "type": "quantitative", "scale": {"domain": [0, 1], "range": [360, 331.2]}, "axis": null}, "text": {"field": "label"}}},
  {"data": {"values": [{"label": "ADS 1 HTR FAIL Caut", "t": "2000-01-01T10:34:47Z"}]}, "mark": {"type": "text", "color": "#A05FA5", "align": "left"},
   "encoding": {"y": {"datum": 0.5, "type": "quantitative", "scale": {"domain": [0, 1], "range": [403.2, 374.4]}, "axis": null}, "text": {"field": "label"}}},
  {"data": {"values": [{"label": "ADS 2 HTR FAULT Adv", "t": "2000-01-01T09:46:08Z"}]}, "mark": {"type": "text", "color": "#0000FF", "align": "right"},
   "encoding": {"y": {"datum": 0.5, "type": "quantitative", "scale": {"domain": [0, 1], "range": [446.4, 417.6]}, "axis": null}, "text": {"field": "label"}}},
  {"data": {"values": [{"label": "ADS 1 HTR FAULT Adv", "t": "2000-01-01T10:34:45Z"}]}, "mark": {"type": "text", "color": "#FF9900", "align": "left"},
   "encoding": {"y": {"datum": 0.5, "type": "quantitative", "scale": {"domain": [0, 1], "range": [489.6, 460.8]}, "axis": null}, "text": {"field": "label"}}},
  {"data": {"values": [{"label": "ADS-AOA HTR ON Adv", "t": "2000-01-01T09:46:08Z"}]}, "mark": {"type": "text", "color": "#009900", "align": "right"},
   "encoding": {"y": {"datum": 0.5, "type": "quantitative", "scale": {"domain": [0, 1], "range": [532.8, 504]}, "axis": null}, "text": {"field": "label"}}},
  {"data": {"values": [{"label": "Static Port 2 Htr 2", "t": "2000-01-01T09:47:01Z"}]}, "mark": {"type": "text", "color": "#FF0000", "align": "right"},
   "encoding": {"y": {"datum": 0.5, "type": "quantitative", "scale": {"domain": [0, 1], "range": [590.4, 561.6]}, "axis": null}, "text": {"field": "label"}}},
  {"data": {"values": [{"label": "Static Port 2 Htr 1", "t": "2000-01-01T10:33:52Z"}]}, "mark": {"type": "text", "color": "#0000FF", "align": "left"},
   "encoding": {"y": {"datum": 0.5, "type": "quantitative", "scale": {"domain": [0, 1], "range": [633.6, 604.8]}, "axis": null}, "text": {"field": "label"}}},
  {"data": {"values": [{"label": "Static Port 1 Htr 2", "t": "2000-01-01T09:47:01Z"}]}, "mark": {"type": "text", "color": "#000000", "align": "right"},
   "encoding": {"y": {"datum": 0.5, "type": "quantitative", "scale": {"domain": [0, 1], "range": [676.8, 648]}, "axis": null}, "text": {"field": "label"}}},
  {"data": {"values": [{"label": "Static Port 1 Htr 1", "t": "2000-01-01T10:33:52Z"}]}, "mark": {"type": "text", "color": "#FF9900", "align": "left"},
   "encoding": {"y": {"datum": 0.5, "type": "quantitative", "scale": {"domain": [0, 1], "range": [720, 691.2]}, "axis": null}, "text": {"field": "label"}}},
  {"data": {"values": [{"label": "Pitot 2 Htr", "t": "2000-01-01T09:47:00Z"}]}, "mark": {"type": "text", "color": "#00DD00", "align": "right"},
   "encoding": {"y": {"datum": 0.5, "type": "quantitative", "scale": {"domain": [0, 1], "range": [763.2, 734.4]}, "axis": null}, "text": {"field": "label"}}},
  {"data": {"values": [{"label": "Pitot 1 Htr", "t": "2000-01-01T10:33:52Z"}]}, "mark": {"type": "text", "color": "#FF0000", "align": "left"},
   "encoding": {"y": {"datum": 0.5, "type": "quantitative", "scale": {"domain": [0, 1], "range": [806.4, 777.6]}, "axis": null}, "text": {"field": "label"}}},
  {"data": {"values": [{"label": "Pitot-Static Probe Htr", "t": "2000-01-01T09:47:00Z"}]}, "mark": {"type": "text", "color": "#A05FA5", "align": "right"},
   "encoding": {"y": {"datum": 0.5, "type": "quantitative", "scale": {"domain": [0, 1], "range": [820.8, 849.6]}, "axis": null}, "text": {"field": "label"}}}
 ],
 "resolve": {"scale": {"y": "independent"}, "axis": {"y": "independent"}}
}
